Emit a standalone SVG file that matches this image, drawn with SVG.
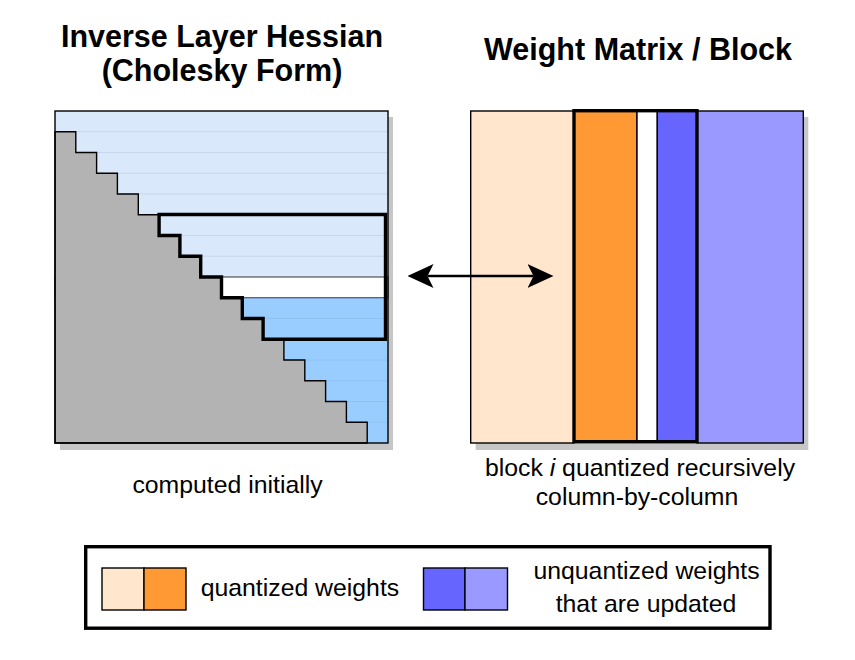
<svg xmlns="http://www.w3.org/2000/svg" width="855" height="660" viewBox="0 0 855 660">
  <style>
    .title { font-family: "Liberation Sans", Arial, Helvetica, sans-serif; font-weight: bold; font-size: 30.5px; fill: #000; text-anchor: middle; }
    .label { font-family: "Liberation Sans", Arial, Helvetica, sans-serif; font-size: 24.8px; fill: #000; }
    .mid { text-anchor: middle; }
    .shadow { fill: #c6c6c6; stroke: none; }
    .thin { stroke: #000; stroke-width: 1.4; }
    .thick { fill: none; stroke: #000; stroke-width: 3.4; stroke-linejoin: miter; }
    .rowline { stroke: #c6d6ec; stroke-width: 1; }
    .rowline2 { stroke: #8ec2f4; stroke-width: 1; }
    .lblue { fill: #dae8fc; }
    .mblue { fill: #99ccff; }
    .grey { fill: #b3b3b3; }
    .peach { fill: #ffe6cc; }
    .orange { fill: #ff9933; }
    .blue { fill: #6666ff; }
    .purple { fill: #9999ff; }
  </style>
  <defs>
    <marker id="head" viewBox="0 0 26 24" refX="6" refY="12" markerWidth="26" markerHeight="24" markerUnits="userSpaceOnUse" orient="auto-start-reverse">
      <path d="M0,0 L26,12 L0,24 L6,12 Z" fill="#000"/>
    </marker>
  </defs>

  <!-- titles -->
  <g id="title-hessian">
    <text class="title" x="222" y="47">Inverse Layer Hessian</text>
    <text class="title" x="222" y="81">(Cholesky Form)</text>
  </g>
  <g id="title-weights">
    <text class="title" x="638" y="60">Weight Matrix / Block</text>
  </g>

  <!-- left: inverse Hessian (Cholesky) -->
  <g id="hessian-matrix">
    <rect class="shadow" x="60" y="117" width="333" height="333"/>
    <rect class="lblue" x="55" y="111" width="333" height="332"/>
    <rect class="mblue" x="55" y="297.75" width="333" height="145.25"/>
    <g class="rowline">
      <line x1="55" y1="131.75" x2="388" y2="131.75"/>
      <line x1="55" y1="152.5" x2="388" y2="152.5"/>
      <line x1="55" y1="173.25" x2="388" y2="173.25"/>
      <line x1="55" y1="194" x2="388" y2="194"/>
      <line x1="55" y1="235.5" x2="388" y2="235.5"/>
      <line x1="55" y1="256.25" x2="388" y2="256.25"/>
    </g>
    <g class="rowline2">
      <line x1="55" y1="318.5" x2="388" y2="318.5"/>
      <line x1="55" y1="360" x2="388" y2="360"/>
      <line x1="55" y1="380.75" x2="388" y2="380.75"/>
      <line x1="55" y1="401.5" x2="388" y2="401.5"/>
      <line x1="55" y1="422.25" x2="388" y2="422.25"/>
    </g>
    <rect x="55" y="277" width="333" height="20.75" fill="#ffffff" stroke="#333" stroke-width="1"/>
    <path class="grey thin" d="M55,131.75 H75.8 V152.5 H96.6 V173.25 H117.4 V194 H138.3 V214.75 H159.1 V235.5 H179.9 V256.25 H200.7 V277 H221.5 V297.75 H242.3 V318.5 H263.1 V339.25 H283.9 V360 H304.8 V380.75 H325.6 V401.5 H346.4 V422.25 H367.2 V443 H55 Z"/>
    <rect x="55" y="111" width="333" height="332" fill="none" class="thin"/>
    <path class="thick" d="M159.1,214.5 H385.5 V339.25 H263.1 V318.5 H242.3 V297.75 H221.5 V277 H200.7 V256.25 H179.9 V235.5 H159.1 Z"/>
  </g>

  <!-- right: weight matrix / block -->
  <g id="weight-matrix">
    <rect class="shadow" x="475.7" y="117" width="332.6" height="333"/>
    <rect class="peach thin" x="470.7" y="111" width="103.3" height="332"/>
    <rect class="orange thin" x="574" y="111" width="63" height="331"/>
    <rect class="thin" fill="#ffffff" x="637" y="111" width="20.3" height="331"/>
    <rect class="blue thin" x="657.3" y="111" width="39.7" height="331"/>
    <rect class="purple thin" x="697" y="111" width="106.3" height="332"/>
    <rect class="thick" x="574" y="110.7" width="123" height="331"/>
  </g>

  <!-- connector -->
  <g id="connectors">
    <line x1="427.5" y1="276" x2="533.5" y2="276" stroke="#000" stroke-width="2.7" marker-start="url(#head)" marker-end="url(#head)"/>
  </g>

  <!-- captions -->
  <g id="caption-hessian">
    <text class="label mid" x="227.5" y="492.7">computed initially</text>
  </g>
  <g id="caption-weights">
    <text class="label mid" x="640" y="476">block <tspan font-style="italic">i</tspan> quantized recursively</text>
    <text class="label mid" x="637" y="505">column-by-column</text>
  </g>

  <!-- legend -->
  <g id="legend">
    <rect x="85.7" y="546.7" width="684.3" height="81.5" fill="#ffffff" stroke="#000" stroke-width="3.4"/>
    <rect class="peach thin" x="102" y="568" width="42" height="42"/>
    <rect class="orange thin" x="144" y="568" width="42" height="42"/>
    <text class="label" x="200.7" y="596">quantized weights</text>
    <rect class="blue thin" x="423.5" y="568" width="41.5" height="42"/>
    <rect class="purple thin" x="465" y="568" width="42.5" height="42"/>
    <text class="label mid" x="646.5" y="579">unquantized weights</text>
    <text class="label mid" x="646" y="611.5">that are updated</text>
  </g>
</svg>
